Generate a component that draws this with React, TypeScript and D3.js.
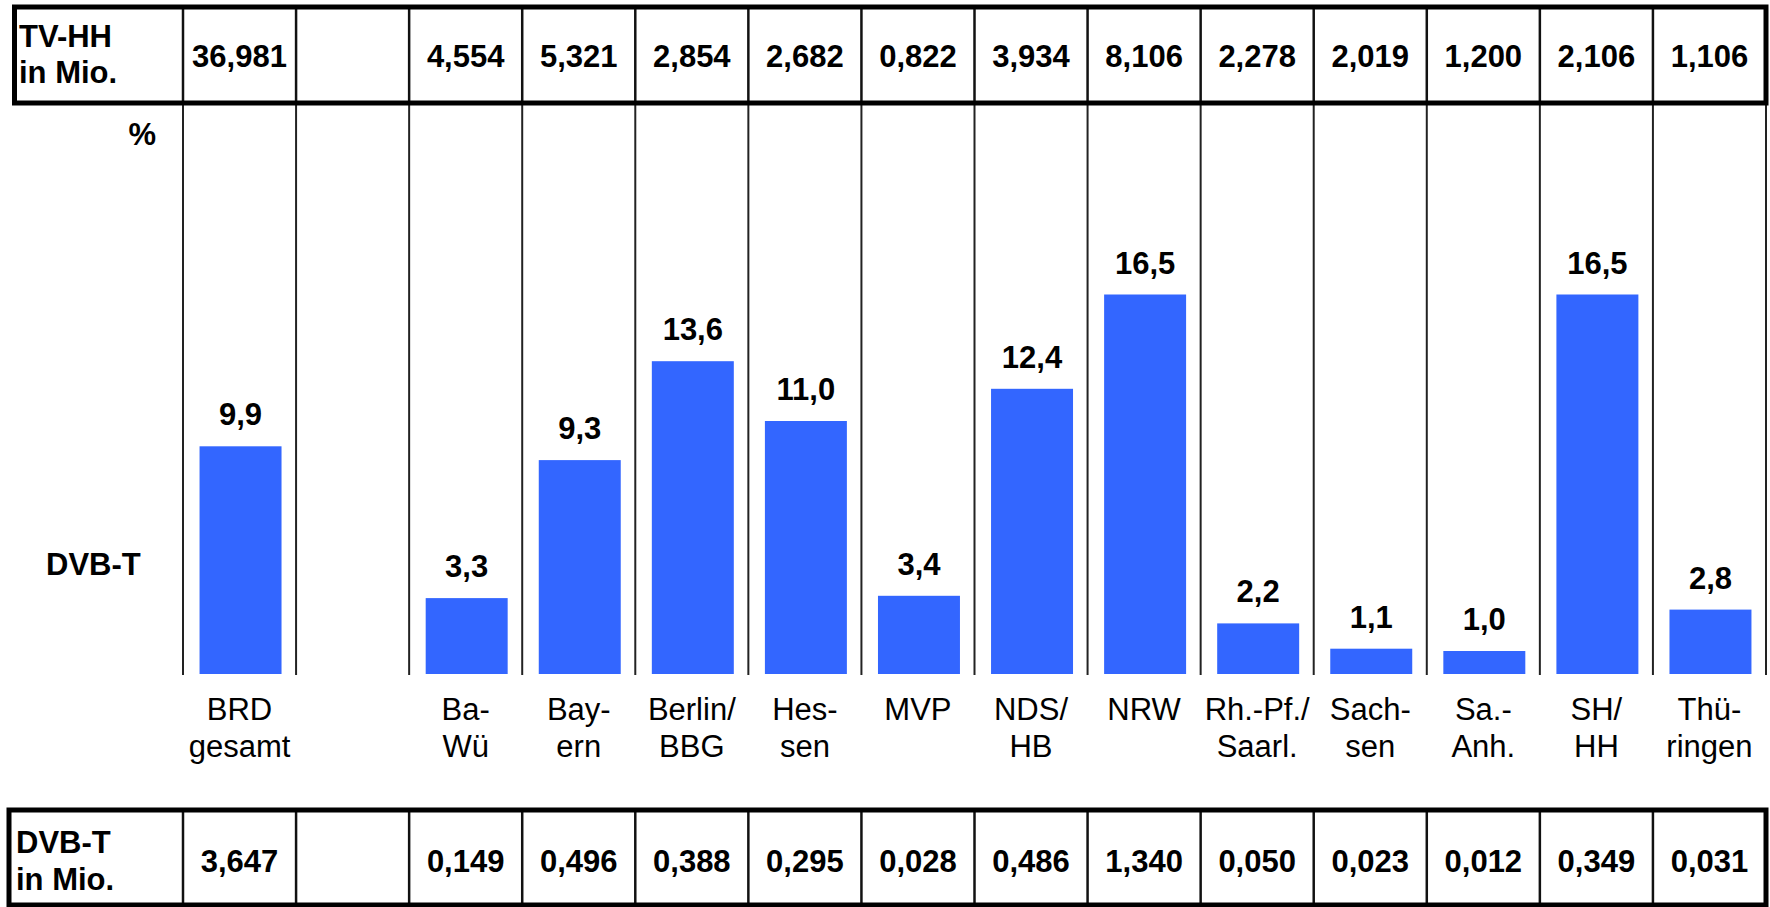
import React from "react";
import * as d3 from "d3";

const categories = ["BRD gesamt", "", "Ba-Wü", "Bayern", "Berlin/BBG", "Hessen", "MVP", "NDS/HB", "NRW", "Rh.-Pf./Saarl.", "Sachsen", "Sa.-Anh.", "SH/HH", "Thüringen"];
const categoryLines: string[][] = [
  ["BRD", "gesamt"], [], ["Ba-", "Wü"], ["Bay-", "ern"], ["Berlin/", "BBG"], ["Hes-", "sen"], ["MVP"],
  ["NDS/", "HB"], ["NRW"], ["Rh.-Pf./", "Saarl."], ["Sach-", "sen"], ["Sa.-", "Anh."], ["SH/", "HH"], ["Thü-", "ringen"],
];
const dvbtPercent: (number | null)[] = [9.9, null, 3.3, 9.3, 13.6, 11.0, 3.4, 12.4, 16.5, 2.2, 1.1, 1.0, 16.5, 2.8];
const tvHH = ["36,981", "", "4,554", "5,321", "2,854", "2,682", "0,822", "3,934", "8,106", "2,278", "2,019", "1,200", "2,106", "1,106"];
const dvbtMio = ["3,647", "", "0,149", "0,496", "0,388", "0,295", "0,028", "0,486", "1,340", "0,050", "0,023", "0,012", "0,349", "0,031"];
const topRowLabel = ["TV-HH", "in Mio."];
const bottomRowLabel = ["DVB-T", "in Mio."];
const yDomain = [0, 25];

const W = 1770;
const H = 907;
const FONT = "Liberation Sans, Arial, Helvetica, sans-serif";
const BLUE = "#3366FF";
const FS = 31;

export default function App() {
  const colLeft = 183;
  const colRight = 1766;
  const x = d3.scaleBand<number>().domain(categories.map((_, i) => i)).range([colLeft, colRight]).paddingInner(0).paddingOuter(0);
  const step = x.step();
  const barW = step * 0.725;
  const baseY = 674;
  const y = d3.scaleLinear().domain(yDomain).range([baseY, baseY - 25 * 23]);
  const fmt = (v: number) => d3.format(".1f")(v).replace(".", ",");

  const boundaries = categories.map((_, i) => x(i)!).concat([colRight]);

  const topY0 = 7, topY1 = 103;
  const botY0 = 810, botY1 = 905;

  return (
    <svg width={W} height={H} style={{ position: "absolute", left: 0, top: 0, background: "#fff" }} fontFamily={FONT}>
      <rect x={0} y={0} width={W} height={H} fill="#fff" />
      {/* middle vertical lines */}
      {boundaries.map((bx, i) => (
        <line key={"m" + i} x1={bx} x2={bx} y1={topY1} y2={baseY + 1} stroke="#222" strokeWidth={2} />
      ))}
      {/* bars */}
      {dvbtPercent.map((v, i) =>
        v == null ? null : (
          <g key={"b" + i}>
            <rect x={x(i)! + (step - barW) / 2 + 1} y={y(v)} width={barW} height={baseY - y(v)} fill={BLUE} />
            <text x={x(i)! + step / 2 + 1} y={y(v) - 21} textAnchor="middle" fontWeight="bold" fontSize={FS} fill="#000">
              {fmt(v)}
            </text>
          </g>
        )
      )}
      {/* category labels */}
      {categoryLines.map((lines, i) =>
        lines.map((ln, j) => (
          <text key={"c" + i + "_" + j} x={x(i)! + step / 2} y={720 + j * 37} textAnchor="middle" fontSize={FS} fill="#000">
            {ln}
          </text>
        ))
      )}
      <text x={156} y={145} textAnchor="end" fontWeight="bold" fontSize={FS}>%</text>
      <text x={46} y={575} fontWeight="bold" fontSize={FS}>DVB-T</text>

      {/* top table */}
      {boundaries.slice(0, -1).map((bx, i) => (
        <line key={"t" + i} x1={bx} x2={bx} y1={topY0} y2={topY1} stroke="#111" strokeWidth={2.5} />
      ))}
      <rect x={14.5} y={topY0} width={colRight - 14.5} height={topY1 - topY0} fill="none" stroke="#000" strokeWidth={5} />
      {topRowLabel.map((t, j) => (
        <text key={"tl" + j} x={19} y={47 + j * 36} fontWeight="bold" fontSize={FS}>{t}</text>
      ))}
      {tvHH.map((t, i) => (
        <text key={"tv" + i} x={x(i)! + step / 2} y={67} textAnchor="middle" fontWeight="bold" fontSize={FS}>{t}</text>
      ))}

      {/* bottom table */}
      {boundaries.slice(0, -1).map((bx, i) => (
        <line key={"bt" + i} x1={bx} x2={bx} y1={botY0} y2={botY1} stroke="#111" strokeWidth={2.5} />
      ))}
      <rect x={9} y={botY0} width={colRight - 9} height={botY1 - botY0} fill="none" stroke="#000" strokeWidth={5} />
      {bottomRowLabel.map((t, j) => (
        <text key={"bl" + j} x={16} y={853 + j * 37} fontWeight="bold" fontSize={FS}>{t}</text>
      ))}
      {dvbtMio.map((t, i) => (
        <text key={"dm" + i} x={x(i)! + step / 2} y={872} textAnchor="middle" fontWeight="bold" fontSize={FS}>{t}</text>
      ))}
    </svg>
  );
}
